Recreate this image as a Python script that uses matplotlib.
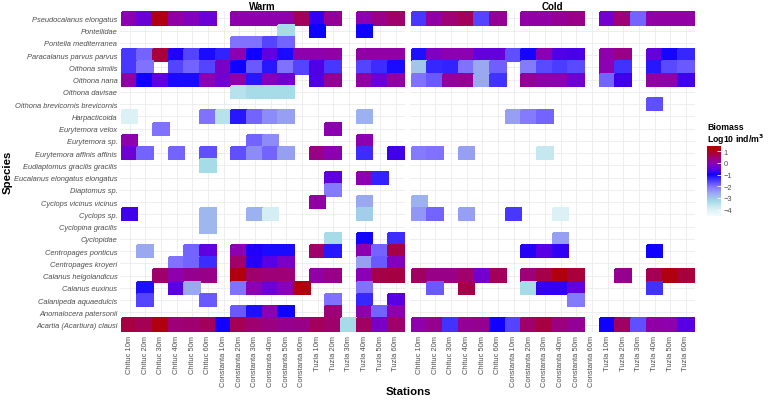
import numpy as np
import matplotlib
matplotlib.use("Agg")
import matplotlib.pyplot as plt
from matplotlib.colors import LinearSegmentedColormap, Normalize

N = np.nan

species = [
    "Pseudocalanus elongatus", "Pontellidae", "Pontella mediterranea",
    "Paracalanus parvus parvus", "Oithona similis", "Oithona nana",
    "Oithona davisae", "Oithona brevicornis brevicornis", "Harpacticoida",
    "Eurytemora velox", "Eurytemora sp.", "Eurytemora affinis affinis",
    "Eudiaptomus gracilis gracilis", "Eucalanus elongatus elongatus",
    "Diaptomus sp.", "Cyclops vicinus vicinus", "Cyclops sp.",
    "Cyclopina gracilis", "Cyclopidae", "Centropages ponticus",
    "Centropages kroyeri", "Calanus helgolandicus", "Calanus euxinus",
    "Calanipeda aquaedulcis", "Anomalocera patersonii",
    "Acartia (Acartiura) clausi",
]

stations = [f"{s} {d}m" for s in ["Chituc", "Constanta", "Tuzla"]
            for d in [10, 20, 30, 40, 50, 60]]

seasons = ["Warm", "Cold"]

# log10 biomass, rows = species (top to bottom), cols = stations
warm = [
    [0.0, -0.4, 1.1, 0.1, -0.1, -0.4, N, 0.05, 0.05, 0.05, 0.05, 0.6, -0.8, 0.2, N, 0.0, 0.3, 0.5],
    [N, N, N, N, N, N, N, N, N, N, -3.3, N, -1.0, N, N, -1.0, N, N],
    [N, N, N, N, N, N, N, -2.0, -2.0, -1.6, -1.9, N, N, N, N, N, N, N],
    [-1.5, -1.9, 0.8, -0.9, -1.6, -1.1, -1.3, 0.0, -1.0, -0.5, -1.1, 0.05, 0.05, 0.1, N, 0.1, 0.1, 0.1],
    [-1.5, -2.0, N, -1.6, -1.9, -1.6, -0.2, -1.0, -1.8, -1.2, -2.0, -1.6, -0.6, -1.5, N, -1.6, -1.4, -1.1],
    [0.1, -1.0, -0.5, -1.1, -1.1, 0.0, -0.3, 0.05, -1.2, -0.1, -0.35, N, -0.6, 0.2, N, 0.1, -0.4, 0.1],
    [N, N, N, N, N, N, N, -3.5, -3.3, -3.3, -3.3, N, N, N, N, N, N, N],
    [N, N, N, N, N, N, N, N, N, N, N, N, N, N, N, N, N, N],
    [-4.0, N, N, N, N, -2.0, -3.5, -1.2, -1.9, -2.3, -2.5, N, N, N, N, -2.7, N, N],
    [N, N, -2.0, N, N, N, N, N, N, N, N, N, N, 0.0, N, N, N, N],
    [0.05, N, N, N, N, N, N, N, -1.9, -2.3, N, N, N, N, N, 0.0, N, N],
    [-0.35, -1.9, N, -1.9, N, -1.7, N, -1.7, -2.3, -1.9, -2.5, N, 0.3, 0.0, N, -1.4, N, -0.7],
    [N, N, N, N, N, -3.3, N, N, N, N, N, N, N, N, N, N, N, N],
    [N, N, N, N, N, N, N, N, N, N, N, N, N, -0.5, N, 0.0, -1.3, N],
    [N, N, N, N, N, N, N, N, N, N, N, N, N, -2.1, N, N, N, N],
    [N, N, N, N, N, N, N, N, N, N, N, N, 0.1, N, N, -2.6, N, N],
    [-0.7, N, N, N, N, -2.8, N, N, -2.7, -3.9, N, N, N, N, N, -3.1, N, N],
    [N, N, N, N, N, -2.8, N, N, N, N, N, N, N, N, N, N, N, N],
    [N, N, N, N, N, N, N, N, N, N, N, N, N, -3.3, N, -1.05, N, -1.4],
    [N, -2.6, N, N, -1.9, -0.5, N, 0.0, -0.9, -1.1, -1.1, N, 0.5, -1.2, N, 0.0, -1.9, 0.7],
    [N, N, N, -2.0, -1.9, -1.4, N, 0.5, -0.85, -0.55, -0.2, N, N, N, N, -2.5, -1.8, -0.1],
    [N, N, 0.5, 0.05, 0.25, 0.3, N, 1.1, 0.5, 0.4, 0.4, N, 0.1, 0.3, N, -0.05, 0.7, 0.75],
    [N, -1.15, N, -0.55, -2.6, N, N, -2.0, 0.0, -0.35, -0.05, 1.1, N, N, N, -2.0, N, N],
    [N, -1.6, N, N, N, -1.8, N, N, N, N, N, N, N, -2.0, N, -1.35, N, -0.55],
    [N, N, N, N, N, N, N, -1.8, -1.15, -0.05, -1.0, N, N, 0.4, N, 0.05, -1.9, 0.05],
    [0.75, 0.65, 1.1, 0.4, 0.45, 0.6, -1.0, 0.65, 0.45, 0.35, 0.25, 0.3, 0.6, 0.5, -3.3, 0.55, -0.2, 0.5],
]

cold = [
    [-1.5, 0.1, 0.4, 0.6, -1.6, 0.2, N, 0.1, 0.1, 0.2, 0.3, N, -0.3, 0.4, -1.9, 0.1, 0.1, 0.1],
    [N, N, N, N, N, N, N, N, N, N, N, N, N, N, N, N, N, N],
    [N, N, N, N, N, N, N, N, N, N, N, N, N, N, N, N, N, N],
    [-1.15, -0.15, 0.0, 0.0, -0.45, -0.45, -1.7, -1.05, 0.0, -0.6, -0.65, N, 0.05, 0.3, N, -0.45, -1.05, -1.35],
    [-3.0, -1.35, -1.3, -2.0, -2.6, -1.85, N, -2.1, -1.65, -1.55, -1.65, N, 0.0, -1.45, N, -1.2, -1.65, -1.8],
    [-2.0, -1.8, 0.15, 0.2, -2.6, -1.45, N, 0.2, 0.05, 0.0, -0.35, N, -1.9, -0.7, N, 0.1, 0.05, -0.7],
    [N, N, N, N, N, N, N, N, N, N, N, N, N, N, N, N, N, N],
    [N, N, N, N, N, N, N, N, N, N, N, N, N, N, N, -1.7, N, N],
    [N, N, N, N, N, N, -2.5, -2.1, -1.9, N, N, N, N, N, N, N, N, N],
    [N, N, N, N, N, N, N, N, N, N, N, N, N, N, N, N, N, N],
    [N, N, N, N, N, N, N, N, N, N, N, N, N, N, N, N, N, N],
    [-2.1, -2.0, N, -2.5, N, N, N, N, -3.7, N, N, N, N, N, N, N, N, N],
    [N, N, N, N, N, N, N, N, N, N, N, N, N, N, N, N, N, N],
    [N, N, N, N, N, N, N, N, N, N, N, N, N, N, N, N, N, N],
    [N, N, N, N, N, N, N, N, N, N, N, N, N, N, N, N, N, N],
    [-2.7, N, N, N, N, N, N, N, N, N, N, N, N, N, N, N, N, N],
    [-2.4, -1.9, N, -2.5, N, N, -1.5, N, N, -4.0, N, N, N, N, N, N, N, N],
    [N, N, N, N, N, N, N, N, N, N, N, N, N, N, N, N, N, N],
    [N, N, N, N, N, N, N, N, N, -2.5, N, N, N, N, N, N, N, N],
    [N, N, N, N, N, N, N, -0.85, -0.55, -0.8, N, N, N, N, N, -1.0, N, N],
    [N, N, N, N, N, N, N, N, N, N, N, N, N, N, N, N, N, N],
    [0.55, 0.3, 0.3, 0.5, -0.3, 0.6, N, 0.4, 0.7, 1.1, 0.8, N, N, 0.25, N, 0.65, 1.1, 0.8],
    [N, -1.8, N, 0.7, N, N, N, -3.3, -0.8, -0.8, -0.45, N, N, N, N, -1.45, N, N],
    [N, N, N, N, N, N, N, N, N, N, -2.1, N, N, N, N, N, N, N],
    [N, N, N, N, N, N, N, N, N, N, N, N, N, N, N, N, N, N],
    [0.05, 0.25, -1.45, 0.2, 0.25, -1.0, -1.6, 0.5, 0.75, 0.35, 0.2, N, -1.0, 0.55, -1.7, 0.1, 0.05, -0.55],
]

vmin, vmax = -4.55, 1.45
stops = [(-4.55, "#f3fbfc"), (-4.0, "#dcf1f6"), (-3.3, "#a6dce8"),
         (-2.6, "#9aa8f0"), (-2.0, "#8070ff"), (-1.0, "#1000ff"),
         (-0.5, "#6000e0"), (0.0, "#8c00b4"), (0.5, "#a0006a"),
         (1.1, "#b00010"), (1.45, "#b00000")]
cmap = LinearSegmentedColormap.from_list(
    "bio", [((v - vmin) / (vmax - vmin), c) for v, c in stops])
norm = Normalize(vmin, vmax)

plt.rcParams["font.family"] = ["Liberation Sans", "DejaVu Sans"]

W, H = 768, 402
fig = plt.figure(figsize=(W / 100, H / 100), dpi=100)

nrow, ncol = len(species), len(stations)
unit_x = 282.0 / ncol
unit_y = 318.4 / nrow
panel_h = unit_y * (nrow + 0.2)
panel_top = 13.3 - 0.1 * unit_y
lefts = [121.7 - 0.1 * unit_x, 411.7 - 0.1 * unit_x]
panel_w = unit_x * (ncol + 0.2)

grey = "#4d4d4d"
for k, (season, data) in enumerate(zip(seasons, [warm, cold])):
    ax = fig.add_axes([lefts[k] / W, 1 - (panel_top + panel_h) / H,
                       panel_w / W, panel_h / H])
    arr = np.ma.masked_invalid(np.array(data, dtype=float))
    xe = np.arange(ncol + 1) - 0.5
    ye = np.arange(nrow + 1) - 0.5
    ax.pcolormesh(xe, ye, arr, cmap=cmap, norm=norm, zorder=2,
                  edgecolor="face", linewidth=0.2)
    ax.set_xlim(-0.6, ncol - 0.4)
    ax.set_ylim(nrow - 0.4, -0.6)
    ax.set_xticks(range(ncol))
    ax.set_yticks(range(nrow))
    ax.grid(True, color="#ebebeb", linewidth=0.6, zorder=0)
    ax.set_axisbelow(True)
    for sp in ax.spines.values():
        sp.set_visible(False)
    ax.tick_params(length=0, pad=2)
    ax.set_xticklabels(stations, rotation=90, fontsize=5.4, color=grey)
    if k == 0:
        ax.set_yticklabels(species, fontsize=5.4, color=grey, style="italic")
    else:
        ax.set_yticklabels([])
    ax.set_title(season, fontsize=7, fontweight="bold", pad=1.5)

fig.text(8 / W, 1 - 172 / H, "Species", rotation=90, fontsize=8.2,
         fontweight="bold", ha="center", va="center")
fig.text(408 / W, 1 - 392 / H, "Stations", fontsize=8.2,
         fontweight="bold", ha="center", va="center")

cax = fig.add_axes([707 / W, 1 - 217 / H, 14 / W, 70 / H])
sm = matplotlib.cm.ScalarMappable(norm=norm, cmap=cmap)
cb = fig.colorbar(sm, cax=cax, ticks=[1, 0, -1, -2, -3, -4])
cb.outline.set_visible(False)
cb.ax.set_yticklabels(["1", "0", "\u22121", "\u22122", "\u22123", "\u22124"])
cb.ax.tick_params(length=3, width=0.6, color="white", direction="in",
                  labelsize=5.4, labelcolor=grey, pad=2)
fig.text(707 / W, 1 - 128 / H, "Biomass", fontsize=6.3, fontweight="bold",
         ha="left", va="center")
fig.text(707 / W, 1 - 140 / H, "Log10 ind/m$^{\\mathbf{3}}$", fontsize=6.3,
         fontweight="bold", ha="left", va="center")

fig.savefig("out.png", dpi=100, facecolor="white")
